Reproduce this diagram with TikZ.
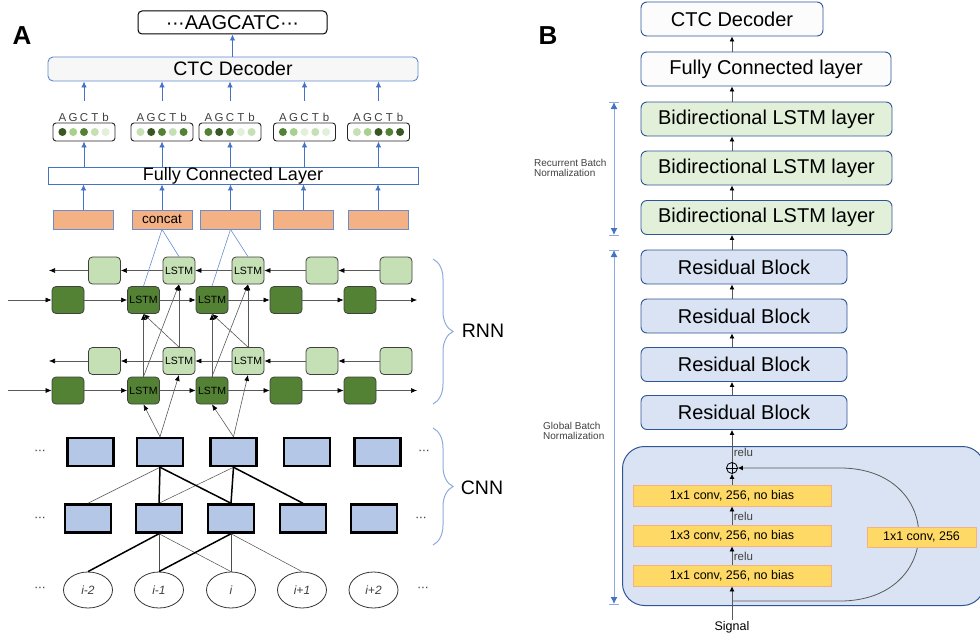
\documentclass[tikz,border=0pt]{standalone}
\usepackage{fontspec}
\setmainfont{Liberation Sans}
\usetikzlibrary{arrows.meta, positioning, decorations.pathreplacing, shapes.geometric}

\definecolor{accblue}{HTML}{4472C4}
\definecolor{bordblue}{HTML}{2F5597}
\definecolor{brcblue}{HTML}{8FAADC}
\definecolor{catfill}{HTML}{F4B183}
\definecolor{cnnfill}{HTML}{B4C7E7}
\definecolor{resfill}{HTML}{DAE3F3}
\definecolor{lstmfill}{HTML}{E2F0D9}
\definecolor{convfill}{HTML}{FFD966}
\definecolor{convline}{HTML}{F4B183}
\definecolor{txtgray}{HTML}{404040}
\definecolor{gA}{HTML}{385723}
\definecolor{gB}{HTML}{548235}
\definecolor{gC}{HTML}{A9D18E}
\definecolor{gD}{HTML}{C5E0B4}
\definecolor{gE}{HTML}{E2F0D9}

\newcommand{\fsz}[1]{\fontsize{#1}{#1}\selectfont}
\newcommand{\mdots}{\textperiodcentered\kern-.5pt\textperiodcentered\kern-.5pt\textperiodcentered}

\begin{document}
\begin{tikzpicture}[x=1pt, y=-1pt,
        seqbox/.style={rectangle, draw=black, line width=1pt, rounded corners=4pt, fill=white,
                    minimum width=189pt, minimum height=23pt, inner sep=0pt, font=\fsz{20}},
        ctcbox/.style={rectangle, draw=accblue!85, line width=.9pt, rounded corners=5pt, fill=black!3,
                    minimum width=370pt, minimum height=24pt, inner sep=0pt, font=\fsz{19.5}},
        probbox/.style={rectangle, draw=black!85, line width=.9pt, rounded corners=3pt, fill=white,
                    minimum width=62pt, minimum height=18pt, inner sep=0pt},
        lett/.style={anchor=base, inner sep=0pt, text=txtgray, font=\fsz{11.5}},
        fcbox/.style={rectangle, draw=accblue, line width=.9pt, fill=white,
                    minimum width=370pt, minimum height=17pt, inner sep=0pt, font=\fsz{18}},
        catbox/.style={rectangle, draw=accblue!80, line width=.8pt, fill=catfill,
                    minimum width=60pt, minimum height=19pt, inner sep=0pt, font=\fsz{13.5}},
        fwdcell/.style={rectangle, draw=black!75, line width=.8pt, rounded corners=4pt, fill=gB,
                    minimum width=32pt, minimum height=27pt, inner sep=0pt, font=\fsz{10.5}},
        bwdcell/.style={fwdcell, fill=gD},
        cnnbox/.style={rectangle, draw=black, line width=2.5pt, fill=cnnfill,
                    minimum width=46pt, minimum height=28pt, inner sep=0pt},
        basebox/.style={ellipse, draw=black!80, line width=.8pt, minimum width=49pt, minimum height=36pt,
                    inner sep=0pt, font=\fsz{12}\itshape, text=txtgray},
        dots/.style={inner sep=0pt, text=txtgray, font=\fsz{13}},
        bluearr/.style={-{Latex[length=6pt,width=5.5pt]}, accblue, line width=.8pt},
        garr/.style={-{Latex[length=6pt,width=5pt,color=black]}, black!65, line width=.6pt},
        catline/.style={accblue!80, line width=.6pt},
        thinl/.style={black!70, line width=.5pt},
        thickl/.style={black, line width=1.5pt},
        brc/.style={decorate, decoration={brace, amplitude=20pt}, brcblue, line width=1pt},
        side/.style={font=\fsz{19.5}, inner sep=0pt},
        panel/.style={font=\fsz{26}\bfseries, inner sep=0pt},
        bbox/.style={rectangle, draw=bordblue, line width=.9pt, rounded corners=6pt,
                    minimum height=34pt, inner sep=0pt, font=\fsz{20}},
        topbox/.style={bbox, fill=black!1},
        lstmbox/.style={bbox, fill=lstmfill, minimum width=251pt},
        resbox/.style={bbox, fill=resfill, minimum width=206pt},
        blkbg/.style={rectangle, draw=bordblue, line width=1pt, rounded corners=22pt, fill=resfill,
                    minimum width=362pt, minimum height=159pt, inner sep=0pt},
        convbox/.style={rectangle, draw=convline, line width=.8pt, fill=convfill,
                    minimum width=198pt, minimum height=21pt, inner sep=0pt, font=\fsz{12.5}},
        karr/.style={-{Latex[length=5pt,width=5pt,color=black]}, black!65, line width=.8pt},
        relu/.style={right, inner sep=1.5pt, font=\fsz{11.5}, text=txtgray},
        dimln/.style={{Latex[length=7pt,width=7pt,color=accblue]}-{Latex[length=7pt,width=7pt,color=accblue]},
                    brcblue, line width=1pt},
        dimbar/.style={brcblue, line width=1pt},
        note/.style={align=left, anchor=west, inner sep=0pt, font=\fsz{10}, text=txtgray}]
      \useasboundingbox (0,0) rectangle (980,634);

      \node[panel] (pa) at (22,36) {A};
      \node[panel] (pb) at (548,36) {B};

      \node[seqbox] (seq) at (232.5,22.5) {\mdots AAGCATC\mdots};
      \node[ctcbox] (ctc) at (233,69) {CTC Decoder};
      \node[fcbox] (fca) at (233,175.5) {Fully Connected Layer};
      \draw[bluearr] (ctc.north -| seq) -- (seq.south);

      \foreach \n/\x/\ca/\cb/\cc/\cd/\ce in {1/84/gA/gC/gB/gD/gE, 2/162/gD/gA/gB/gD/gB,
            3/230/gB/gA/gB/gE/gD, 4/304.5/gB/gC/gE/gD/gE, 5/378.5/gD/gC/gA/gB/gA} {
        \node[probbox] (p\n) at (\x,132) {};
        \foreach \c [count=\k] in {\ca,\cb,\cc,\cd,\ce}
          \fill[fill=\c] (\x+\k*10.8-32.4,132) circle (4pt);
        \foreach \l [count=\k] in {A,G,C,T,b}
          \node[lett] (l\n\k) at (\x+\k*10.8-32.4,121.5) {\l};
        \coordinate (t\n) at (\x,101);
        \draw[bluearr] (t\n) -- (t\n |- ctc.south);
        \draw[bluearr] (p\n.south |- fca.north) -- (p\n.south);
      }

      \foreach \n/\x/\txt in {1/83.5/{}, 2/162/concat, 3/230.5/{}, 4/303.5/{}, 5/378/{}} {
        \node[catbox] (o\n) at (\x,219.5) {\txt};
        \draw[bluearr] (o\n.north) -- (o\n.north |- fca.south);
      }

      \foreach \n/\xf/\xb/\txt in {1/68/104.5/{}, 2/143.5/179/LSTM, 3/212/248/LSTM, 4/286/322/{}, 5/360/396/{}} {
        \node[bwdcell] (b\n) at (\xb,270.5) {\txt};
        \node[fwdcell] (f\n) at (\xf,300) {\txt};
        \node[bwdcell] (lb\n) at (\xb,361) {\txt};
        \node[fwdcell] (lf\n) at (\xf,390.5) {\txt};
      }
      \coordinate (fin) at (8,300);
      \coordinate (fout) at (417,300);
      \coordinate (bout) at (49,270.5);
      \coordinate (lfin) at (8,390.5);
      \coordinate (lfout) at (417,390.5);
      \coordinate (lbout) at (49,361);
      \draw[garr] (fin) -- (f1);
      \draw[garr] (f5) -- (fout);
      \draw[garr] (b1) -- (bout);
      \draw[garr] (lfin) -- (lf1);
      \draw[garr] (lf5) -- (lfout);
      \draw[garr] (lb1) -- (lbout);
      \foreach \a/\b in {1/2, 2/3, 3/4, 4/5} {
        \draw[garr] (f\a) -- (f\b);
        \draw[garr] (b\b) -- (b\a);
        \draw[garr] (lf\a) -- (lf\b);
        \draw[garr] (lb\b) -- (lb\a);
      }

      \foreach \n/\x in {1/90.5, 2/160, 3/233.5, 4/307, 5/377.5}
        \node[cnnbox] (c\n) at (\x,452) {};
      \foreach \n/\x in {1/88, 2/159, 3/231, 4/303, 5/374}
        \node[cnnbox] (d\n) at (\x,518.5) {};
      \foreach \n/\x/\txt in {1/88/i-2, 2/159/i-1, 3/231/i, 4/302/i+1, 5/373.5/i+2}
        \node[basebox] (e\n) at (\x,590) {\txt};

      \foreach \n in {2,3} {
        \draw[garr] (lf\n.north) -- (f\n.south);
        \draw[garr] (lf\n.north) -- (b\n.south);
        \draw[garr] (lb\n.north) -- (b\n.south);
        \draw[garr] (lb\n.north) -- (f\n.south);
        \draw[garr] (c\n.north) -- (lf\n.south);
        \draw[garr] (c\n.north) -- (lb\n.south);
        \draw[catline] (o\n.south) -- (f\n.north);
        \draw[catline] (o\n.south) -- (b\n.north);
      }

      \draw[thinl] (c2.south) -- (d1.north);
      \draw[thinl] (c3.south) -- (d2.north);
      \draw[thinl] (d2.south) -- (e2.north);
      \draw[thinl] (d2.south) -- (e3.north);
      \draw[thinl] (d3.south) -- (e3.north);
      \draw[thinl] (d3.south) -- (e4.north);
      \draw[thickl] (c2.south) -- (d2.north);
      \draw[thickl] (c2.south) -- (d3.north);
      \draw[thickl] (c3.south) -- (d3.north);
      \draw[thickl] (c3.south) -- (d4.north);
      \draw[thickl] (d2.south) -- (e1.north);
      \draw[thickl] (d3.south) -- (e2.north);

      \node[dots] (ld1) at (40,452) {\mdots};
      \node[dots] (ld2) at (40,519) {\mdots};
      \node[dots] (ld3) at (40,589) {\mdots};
      \node[dots] (rd1) at (424,452) {\mdots};
      \node[dots] (rd2) at (421,519) {\mdots};
      \node[dots] (rd3) at (423,589) {\mdots};

      \draw[brc] (433,259) -- (433,404);
      \draw[brc] (433,428) -- (433,545);
      \node[side] (rnn) at (483,331) {RNN};
      \node[side] (cnn) at (482,488) {CNN};

      \node[topbox, minimum width=182pt] (ctcb) at (732,19) {CTC Decoder};
      \node[topbox, minimum width=250pt] (fcb) at (766,69) {Fully Connected layer};
      \node[lstmbox] (bl1) at (766.5,119) {Bidirectional LSTM layer};
      \node[lstmbox] (bl2) at (766.5,168) {Bidirectional LSTM layer};
      \node[lstmbox] (bl3) at (766.5,217.5) {Bidirectional LSTM layer};
      \node[resbox] (rb1) at (744,267) {Residual Block};
      \node[resbox] (rb2) at (744,316) {Residual Block};
      \node[resbox] (rb3) at (744,364.5) {Residual Block};
      \node[resbox] (rb4) at (744,412.5) {Residual Block};
      \foreach \a/\b in {fcb/ctcb, bl1/fcb, bl2/bl1, bl3/bl2, rb1/bl3, rb2/rb1, rb3/rb2, rb4/rb3}
        \draw[karr] (\a.north -| ctcb) -- (\b.south -| ctcb);

      \coordinate (rnt) at (614,102);
      \coordinate (rnb) at (614,235);
      \coordinate (gnt) at (614,250);
      \coordinate (gnb) at (614,604);
      \draw[dimln] (rnt) -- (rnb);
      \draw[dimln] (gnt) -- (gnb);
      \foreach \p in {rnt, rnb, gnt, gnb}
        \draw[dimbar] ([xshift=-5pt]\p) -- ([xshift=5pt]\p);
      \node[note] (rbn) at (534,168) {Recurrent Batch\\Normalization};
      \node[note] (gbn) at (543,430.5) {Global Batch\\Normalization};

      \begin{scope}
        \clip (0,0) rectangle (980,634);
        \node[blkbg, anchor=north west] (blk) at (622,446) {};
      \end{scope}
      \node[circle, draw=black, line width=.8pt, minimum size=11pt, inner sep=0pt] (op) at (732,468) {};
      \draw[black, line width=.8pt] (op.north) -- (op.south) (op.west) -- (op.east);
      \node[convbox] (cv3) at (732,495.5) {1x1 conv, 256, no bias};
      \node[convbox] (cv2) at (732,535.5) {1x3 conv, 256, no bias};
      \node[convbox] (cv1) at (732,575.5) {1x1 conv, 256, no bias};
      \node[font=\fsz{12.5}, inner sep=1pt] (sig) at (732,627) {Signal};
      \coordinate (sk) at (732,601);
      \draw[karr] (sk) -- (840,601) .. controls (945,601) and (945,468) .. (840,468) -- (op.east);
      \node[convbox, minimum width=109pt, minimum height=20pt] (cvs) at (921.5,537) {1x1 conv, 256};
      \draw[karr] (sig.north) -- (cv1.south);
      \draw[karr] (cv1.north) -- node[relu, pos=.45] {relu} (cv2.south);
      \draw[karr] (cv2.north) -- node[relu, pos=.45] {relu} (cv3.south);
      \draw[karr] (cv3.north) -- (op.south);
      \draw[karr] (op.north) -- node[relu, pos=.3] {relu} (rb4.south -| op);
\end{tikzpicture}
\end{document}
